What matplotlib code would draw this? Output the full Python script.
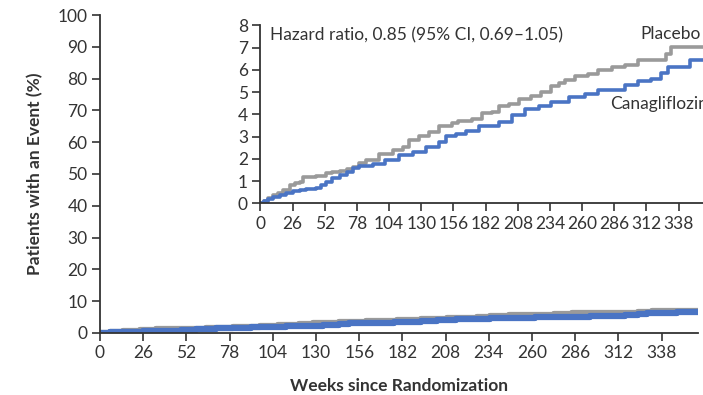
import matplotlib.pyplot as plt

# weeks and cumulative event %
placebo_weeks = [0, 3, 6, 10, 14, 18, 24, 28, 32, 34, 45, 53, 58, 64, 70, 75, 80, 85,
                 96, 107, 115, 120, 128, 136, 144, 155, 160, 171, 179, 187, 193, 201,
                 209, 219, 227, 235, 241, 246, 254, 265, 273, 284, 295, 305, 324, 328,
                 332, 360]
placebo_pct = [0, 0.12, 0.25, 0.37, 0.48, 0.6, 0.82, 0.9, 0.97, 1.2, 1.24, 1.35, 1.4,
               1.46, 1.55, 1.64, 1.8, 1.97, 2.24, 2.39, 2.54, 2.87, 3.02, 3.2, 3.47,
               3.59, 3.7, 3.77, 4.04, 4.11, 4.36, 4.48, 4.7, 4.81, 5.0, 5.26, 5.4,
               5.53, 5.71, 5.8, 5.98, 6.13, 6.2, 6.43, 6.46, 6.73, 7.03, 7.03]

cana_weeks = [0, 3, 6, 10, 16, 21, 26, 32, 37, 45, 49, 53, 58, 64, 70, 75, 80, 91, 101,
              112, 123, 134, 144, 150, 158, 166, 177, 193, 203, 214, 225, 235, 249,
              262, 273, 284, 295, 305, 316, 324, 329, 347, 360]
cana_pct = [0, 0.1, 0.2, 0.3, 0.38, 0.45, 0.57, 0.62, 0.67, 0.7, 0.83, 0.97, 1.12,
            1.27, 1.42, 1.57, 1.69, 1.79, 1.94, 2.17, 2.32, 2.54, 2.77, 3.02, 3.14,
            3.26, 3.47, 3.66, 3.96, 4.26, 4.36, 4.56, 4.78, 4.93, 5.08, 5.11, 5.31,
            5.49, 5.6, 5.86, 6.13, 6.46, 6.46]

week_ticks = [0, 26, 52, 78, 104, 130, 156, 182, 208, 234, 260, 286, 312, 338]
main_yticks = list(range(0, 101, 10))
inset_yticks = list(range(0, 9))

GRAY = "#9a9a9a"
BLUE = "#4a74c4"
INK = "#333333"

plt.rcParams["font.family"] = ["Lato", "DejaVu Sans"]
plt.rcParams["text.color"] = INK
plt.rcParams["axes.labelcolor"] = INK
plt.rcParams["xtick.color"] = INK
plt.rcParams["ytick.color"] = INK


def style(ax):
    for s in ["top", "right"]:
        ax.spines[s].set_visible(False)
    for s in ["left", "bottom"]:
        ax.spines[s].set_color(INK)
        ax.spines[s].set_linewidth(1.3)
    ax.tick_params(direction="out", length=6, width=1.2, labelsize=12.5, pad=3)


fig = plt.figure(figsize=(7.03, 3.95), dpi=100)

ax = fig.add_axes([0.1422, 0.157, 0.851, 0.805])
ax.step(placebo_weeks, placebo_pct, where="post", color=GRAY, lw=4.5)
ax.step(cana_weeks, cana_pct, where="post", color=BLUE, lw=4.5)
ax.set_xlim(0, 360)
ax.set_ylim(0, 100)
ax.set_xticks(week_ticks)
ax.set_yticks(main_yticks)
style(ax)
ax.set_xlabel("Weeks since Randomization", fontsize=12.5, fontweight="bold", labelpad=12)
ax.set_ylabel("Patients with an Event (%)", fontsize=12.5, fontweight="bold", labelpad=10)

ins = fig.add_axes([0.3705, 0.485, 0.66, 0.451])
ins.step(placebo_weeks, placebo_pct, where="post", color=GRAY, lw=2.6)
ins.step(cana_weeks, cana_pct, where="post", color=BLUE, lw=2.6)
ins.set_xlim(0, 375)
ins.set_ylim(0, 8)
ins.set_xticks(week_ticks)
ins.set_yticks(inset_yticks)
style(ins)
ins.patch.set_alpha(0)
ins.text(8, 7.55, "Hazard ratio, 0.85 (95% CI, 0.69\u20131.05)", fontsize=12.5, va="center")
ins.text(307, 7.6, "Placebo", fontsize=12.5, va="center")
ins.text(283, 4.45, "Canagliflozin", fontsize=12.5, va="center")

fig.savefig("out.png", dpi=100)
